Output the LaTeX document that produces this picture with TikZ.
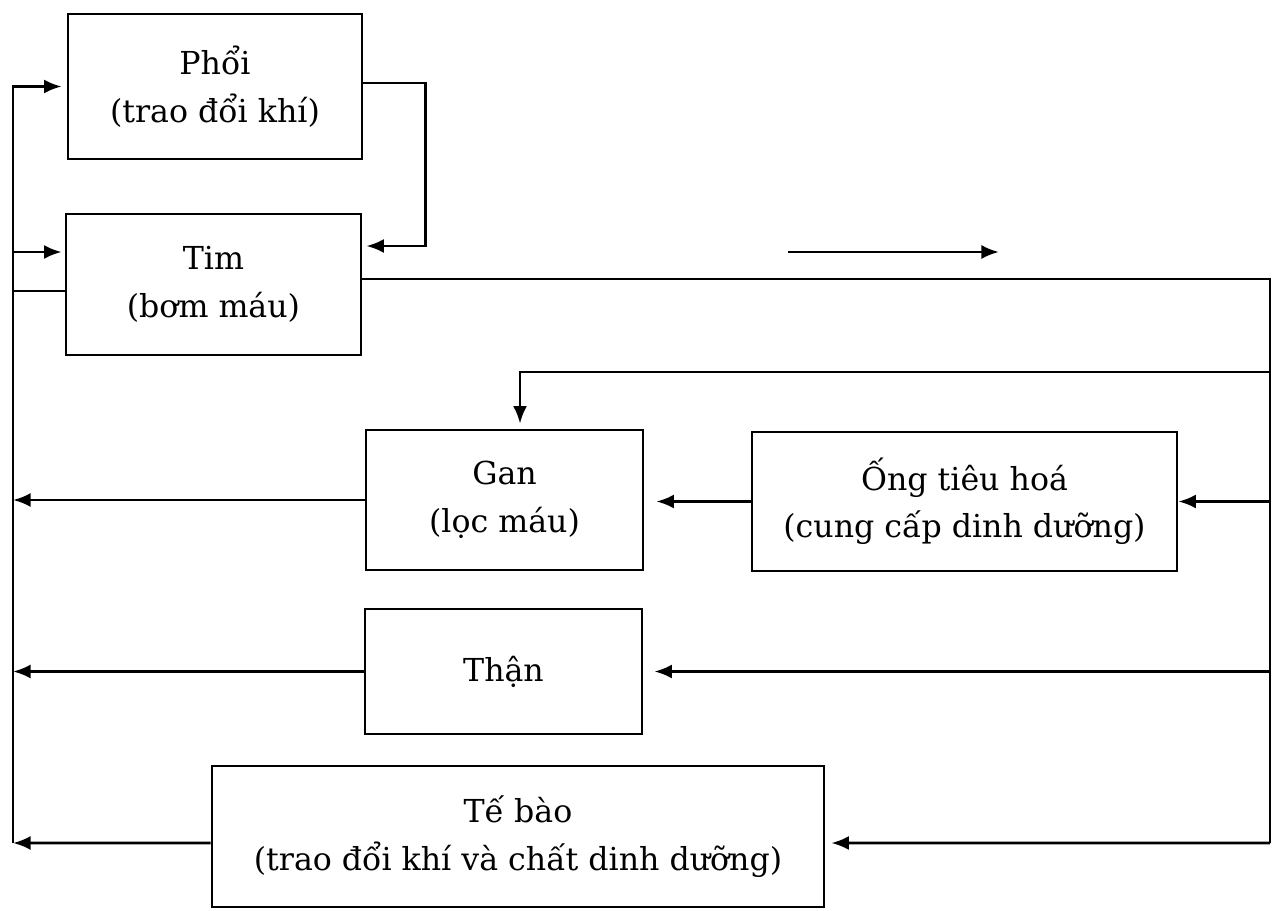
\documentclass[tikz,border=0pt]{standalone}
\usepackage{fontspec}
\setmainfont{DejaVu Serif}
\usetikzlibrary{arrows.meta,calc}

\begin{document}
\begin{tikzpicture}[x=0.02cm,y=-0.02cm,
            every node/.style={rectangle,draw,line width=1.6pt,align=center,
              font=\fontsize{18}{27}\selectfont},
            every path/.style={line width=1.6pt},
            >={Latex[length=10pt,width=8pt]}]
            \useasboundingbox (0,0) rectangle (1273,911);
            \node[minimum width=5.88cm,minimum height=2.9cm] (Phoi) at (215,86.5) {Phổi\\(trao đổi khí)};
            \node[minimum width=5.9cm,minimum height=2.82cm] (Tim) at (213.5,284.5) {Tim\\(bơm máu)};
            \node[minimum width=5.54cm,minimum height=2.8cm] (Gan) at (504.5,500) {Gan\\(lọc máu)};
            \node[minimum width=8.5cm,minimum height=2.78cm] (Ong) at (964.5,501.5) {Ống tiêu hoá\\(cung cấp dinh dưỡng)};
            \node[minimum width=5.54cm,minimum height=2.5cm] (Than) at (503.5,671.5) {Thận};
            \node[minimum width=12.24cm,minimum height=2.82cm] (TeBao) at (518,836.5) {Tế bào\\(trao đổi khí và chất dinh dưỡng)};

            \coordinate (Lbot) at (13,843);
            \coordinate (Rbot) at (1270,843);
            \coordinate (Rgan) at (1270,372);
            \coordinate (Adir) at (788,252);
            \coordinate (Bdir) at (999,252);
            \coordinate (TimIn) at ($(Tim.west)+(0,-32.5)$);
            \coordinate (TimOut) at ($(Tim.west)+(0,6.5)$);
            \coordinate (TimBack) at ($(Tim.east)+(0,-38.5)$);
            \coordinate (TimR) at ($(Tim.east)+(0,-5.5)$);
            \coordinate (PhoiOut) at ($(Phoi.east)+(0,-3.5)$);
            \coordinate (TeOut) at ($(TeBao.west)+(0,6.5)$);
            \coordinate (TeIn) at ($(TeBao.east)+(0,6.5)$);

            % left side, back to the heart and lungs
            \draw[->,shorten >=0.1cm] (Lbot) |- (Phoi.west);
            \draw[->,shorten >=0.06cm] (Lbot |- TimIn) -- (TimIn);
            \draw (TimOut) -- (Lbot |- TimOut);
            \draw[->] (Gan.west) -- (Lbot |- Gan.west);
            \draw[->] (Than.west) -- (Lbot |- Than.west);
            \draw[->] (TeOut) -- (Lbot);

            \draw[->,shorten >=0.08cm] (PhoiOut) -- ++(62,0) |- (TimBack);

            % right side, out of the heart
            \draw (TimR) -| (Rbot);
            \draw[->,shorten >=0.1cm] (Rgan) -| ($(Gan.north)+(15.5,0)$);
            \draw[->] (Rbot |- Ong.east) -- (Ong.east);
            \draw[->,shorten >=0.22cm] (Rbot |- Than.east) -- (Than.east);
            \draw[->,shorten >=0.12cm] (Rbot) -- (TeIn);
            \draw[->,shorten >=0.24cm] (Ong.west) -- (Ong.west -| Gan.east);

            \draw[->] (Adir) -- (Bdir);
\end{tikzpicture}
\end{document}
